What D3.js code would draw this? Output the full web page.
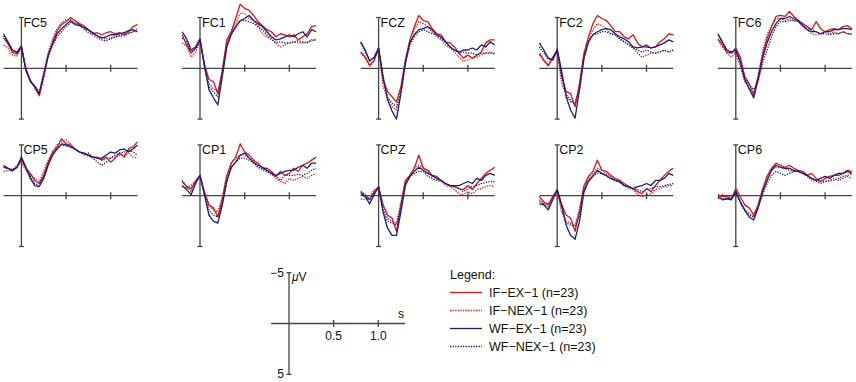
<!DOCTYPE html>
<html>
<head>
<meta charset="utf-8">
<script src="https://cdn.jsdelivr.net/npm/d3@7"></script>
<style>
  body { margin: 0; background: #fff; }
  svg text { font-family: "Liberation Sans", Arial, Helvetica, sans-serif; fill: #111; }
</style>
</head>
<body>
<div id="chart"></div>
<script>
// channel names, in panel order (row 1 then row 2)
const channels = ["FC5", "FC1", "FCZ", "FC2", "FC6", "CP5", "CP1", "CPZ", "CP2", "CP6"];
// sample times in s, -0.2 .. 1.3 every 50 ms
const times = d3.range(31).map(i => +(-0.2 + i * 0.05).toFixed(2));

// amplitudes in microvolts (negative plotted up), one row per channel
const ifEx = [
  [-3.0,-2.4,-1.6,-1.4,-2.1,0.0,1.2,1.9,2.7,0.9,-1.2,-2.6,-3.7,-4.3,-4.6,-5.0,-4.7,-4.4,-4.2,-3.8,-3.4,-3.5,-3.3,-3.5,-3.6,-3.4,-3.5,-3.3,-3.6,-4.1,-4.3],
  [-3.3,-2.3,-1.5,-2.0,-2.8,-0.4,1.1,1.3,2.5,0.2,-2.8,-3.6,-4.9,-6.3,-5.9,-5.7,-5.2,-4.6,-4.2,-3.8,-3.6,-3.1,-3.4,-3.3,-3.1,-3.3,-2.8,-3.1,-3.4,-4.1,-4.2],
  [-1.6,-1.1,-0.3,-0.8,-2.0,1.1,2.3,2.8,3.3,1.8,-0.8,-2.8,-4.1,-5.2,-4.7,-4.6,-3.9,-3.4,-3.3,-2.6,-2.5,-2.1,-1.5,-1.0,-1.3,-1.0,-1.3,-1.6,-2.5,-2.8,-2.8],
  [-1.5,-0.8,-0.3,-1.1,-1.8,0.8,2.3,2.5,3.8,1.5,-1.5,-3.1,-4.4,-5.2,-4.9,-4.7,-4.2,-3.6,-3.6,-3.1,-2.9,-3.3,-2.5,-2.1,-2.3,-2.0,-2.1,-2.6,-2.9,-3.4,-3.3],
  [-2.9,-2.3,-1.6,-1.5,-2.0,-1.1,0.8,1.5,2.6,0.8,-1.3,-2.9,-4.1,-5.1,-5.2,-5.1,-5.6,-5.1,-4.7,-4.4,-4.1,-3.8,-4.6,-3.9,-3.6,-3.8,-3.9,-3.8,-4.1,-4.2,-3.9],
  [-2.8,-2.7,-2.4,-2.8,-3.5,-2.7,-2.2,-1.5,-1.2,-2.0,-3.3,-4.3,-4.8,-5.6,-5.1,-5.0,-4.6,-4.3,-4.2,-4.0,-3.8,-3.8,-3.5,-3.8,-3.3,-3.7,-4.2,-3.8,-4.6,-4.8,-5.3],
  [-1.4,-0.9,-0.7,-1.4,-2.0,-0.4,0.9,1.2,2.1,0.3,-2.0,-3.2,-3.8,-5.1,-4.3,-4.0,-3.5,-3.2,-2.7,-2.7,-2.4,-1.9,-2.4,-2.0,-2.2,-2.7,-2.4,-3.0,-3.2,-3.5,-3.8],
  [-0.4,0.1,0.4,-0.4,-0.9,0.9,1.9,2.2,3.5,0.9,-1.5,-2.0,-2.7,-4.0,-2.7,-2.5,-2.0,-1.9,-1.5,-1.2,-1.0,-0.9,-0.7,-0.6,-1.0,-0.6,-1.2,-1.7,-2.2,-2.5,-2.8],
  [0.1,0.6,0.9,0.1,-0.6,0.9,1.9,2.2,3.5,1.6,-1.0,-1.9,-2.4,-3.5,-2.5,-2.4,-2.0,-1.7,-1.5,-1.2,-0.9,-0.7,-0.4,-0.2,-0.7,-0.4,-1.0,-1.5,-2.0,-2.4,-2.7],
  [-0.1,0.1,0.1,0.3,-0.7,0.1,0.9,1.2,1.9,0.9,-0.6,-1.9,-2.7,-3.2,-3.0,-2.8,-3.0,-2.7,-2.5,-2.4,-2.0,-2.2,-1.7,-1.4,-1.7,-1.9,-2.0,-2.0,-2.2,-2.5,-2.4]
];
const ifNex = [
  [-2.3,-2.0,-1.3,-1.2,-2.0,0.1,1.2,1.9,2.6,0.7,-1.6,-2.9,-3.9,-4.5,-4.8,-4.8,-4.5,-4.3,-4.0,-3.7,-3.5,-3.2,-3.0,-2.9,-3.0,-3.1,-3.2,-3.4,-3.5,-3.6,-3.9],
  [-2.5,-2.2,-1.1,-1.6,-2.6,-0.3,1.5,2.0,2.3,0.3,-2.4,-3.6,-4.4,-5.4,-5.4,-4.9,-4.7,-4.2,-3.4,-3.1,-2.8,-2.5,-2.1,-2.3,-2.5,-2.6,-2.5,-2.5,-2.6,-2.7,-2.8],
  [-1.5,-1.0,-0.2,-0.7,-1.8,1.8,2.8,3.8,4.1,2.1,-0.8,-2.6,-3.8,-4.6,-4.4,-4.1,-3.6,-3.1,-2.8,-2.3,-2.0,-1.6,-1.1,-0.7,-0.8,-1.0,-1.1,-1.3,-1.5,-1.6,-1.5],
  [-1.3,-0.7,-0.2,-1.0,-1.6,1.5,2.6,3.1,3.6,1.6,-1.3,-2.8,-3.8,-4.4,-4.2,-3.9,-3.4,-3.3,-2.9,-2.6,-2.3,-2.0,-1.5,-1.1,-1.3,-1.5,-1.5,-1.6,-1.8,-1.6,-1.8],
  [-2.8,-2.1,-1.5,-1.1,-1.5,-0.2,1.3,2.0,2.5,0.8,-1.6,-3.3,-4.2,-4.9,-4.9,-4.7,-4.9,-4.7,-4.6,-4.1,-3.8,-3.4,-3.3,-3.4,-3.6,-3.4,-3.6,-3.4,-3.6,-3.4,-3.3],
  [-2.4,-2.5,-2.5,-3.0,-3.3,-2.5,-2.0,-1.7,-1.4,-2.4,-3.5,-4.3,-5.0,-5.3,-5.5,-5.1,-4.6,-4.3,-4.0,-4.2,-3.8,-3.7,-3.5,-3.7,-3.7,-3.8,-4.0,-4.0,-4.2,-3.8,-3.7],
  [-0.9,-0.7,-1.0,-1.5,-1.9,-0.2,0.9,1.4,1.6,0.1,-1.9,-3.2,-3.7,-4.0,-4.0,-3.7,-3.3,-2.8,-2.5,-2.4,-2.2,-1.7,-1.4,-1.2,-1.7,-1.5,-1.7,-1.9,-1.7,-2.0,-2.2],
  [0.3,0.4,0.1,-0.6,-0.7,1.2,2.2,2.5,2.7,0.6,-1.4,-2.0,-2.8,-3.0,-2.8,-2.4,-1.9,-1.7,-1.5,-1.0,-0.9,-0.6,-0.2,-0.1,-0.4,-0.2,-0.6,-0.7,-0.9,-1.0,-0.9],
  [0.6,0.8,0.8,0.1,-0.4,1.6,2.5,2.7,2.9,1.2,-0.9,-1.7,-2.2,-2.7,-2.5,-2.2,-1.9,-1.5,-1.4,-1.0,-0.7,-0.6,-0.1,0.1,-0.1,-0.2,-0.6,-0.7,-0.9,-1.0,-1.0],
  [0.3,-0.1,0.1,0.1,-0.4,0.6,1.4,1.7,2.1,0.9,-0.7,-1.9,-2.5,-2.8,-2.8,-2.7,-2.5,-2.4,-2.4,-2.2,-1.9,-1.5,-1.4,-1.2,-1.4,-1.5,-1.7,-1.5,-1.7,-1.9,-1.7]
];
const wfEx = [
  [-3.4,-2.6,-1.8,-1.6,-2.2,0.2,1.3,1.8,2.5,0.6,-1.3,-2.4,-3.4,-3.9,-4.3,-4.7,-4.3,-4.2,-4.0,-3.8,-3.5,-3.2,-3.0,-3.1,-3.3,-3.3,-3.4,-3.5,-3.7,-3.8,-3.6],
  [-3.6,-2.9,-1.8,-2.1,-2.9,-0.2,2.1,2.9,3.6,0.8,-2.1,-3.4,-4.1,-4.7,-4.9,-5.2,-4.7,-4.4,-4.1,-3.6,-3.1,-2.8,-2.9,-3.1,-3.3,-3.1,-3.4,-3.6,-3.1,-3.8,-3.6],
  [-2.6,-1.8,-0.7,-1.1,-2.0,0.8,3.1,4.2,5.0,2.5,-0.5,-2.5,-3.3,-3.8,-3.9,-4.1,-3.8,-3.3,-3.1,-2.6,-2.1,-1.8,-1.6,-1.8,-1.8,-2.0,-1.8,-2.3,-2.1,-2.6,-2.3],
  [-2.5,-1.8,-1.0,-0.8,-1.9,0.3,2.8,4.1,4.9,2.1,-1.0,-2.6,-3.3,-3.6,-3.8,-3.9,-3.8,-3.4,-3.1,-2.9,-2.6,-2.1,-2.0,-2.1,-2.1,-2.0,-2.1,-2.3,-2.5,-2.8,-2.6],
  [-3.4,-2.6,-1.8,-1.6,-1.8,-0.7,1.1,2.0,2.9,1.1,-1.0,-2.5,-3.6,-4.4,-4.9,-4.9,-5.1,-4.9,-4.7,-4.2,-3.8,-3.6,-3.6,-3.4,-3.6,-3.6,-3.8,-3.8,-3.9,-3.9,-3.8],
  [-3.0,-2.7,-2.5,-2.8,-3.8,-2.8,-1.7,-1.0,-0.9,-1.7,-3.0,-4.0,-4.6,-5.1,-5.0,-4.8,-4.6,-4.3,-4.2,-4.0,-3.8,-3.7,-3.7,-4.0,-4.3,-4.2,-4.5,-4.6,-4.3,-4.6,-5.0],
  [-1.0,-0.6,-0.1,-1.2,-2.0,-0.1,1.9,2.5,2.7,0.9,-1.4,-2.8,-3.3,-4.0,-4.2,-3.7,-3.3,-3.0,-2.8,-2.5,-2.2,-2.0,-2.2,-2.4,-2.5,-2.5,-2.8,-3.0,-2.7,-3.2,-3.2],
  [-0.2,0.1,0.8,-0.1,-0.9,1.6,3.2,3.9,3.9,1.6,-1.0,-1.9,-2.4,-2.8,-2.5,-2.2,-2.0,-1.7,-1.5,-1.2,-1.0,-1.0,-1.0,-1.2,-1.4,-1.2,-1.7,-1.5,-2.0,-2.2,-2.0],
  [0.8,0.9,1.4,0.4,-0.6,0.9,2.9,3.9,4.3,2.5,-0.4,-1.4,-1.9,-2.5,-2.2,-2.0,-1.7,-1.5,-1.4,-1.0,-0.9,-0.7,-0.9,-1.0,-1.2,-1.0,-1.5,-1.5,-1.7,-2.2,-2.0],
  [0.1,0.4,0.3,0.4,-0.4,0.6,1.4,2.1,2.4,1.2,-0.4,-1.5,-2.5,-3.0,-2.8,-2.7,-2.7,-2.5,-2.4,-2.2,-2.0,-1.7,-1.5,-1.7,-1.9,-1.7,-2.0,-2.2,-2.2,-2.4,-2.2]
];
const wfNex = [
  [-3.2,-2.5,-1.8,-1.5,-2.1,0.2,1.2,1.7,2.3,0.5,-1.2,-2.3,-3.1,-3.6,-4.1,-4.5,-4.4,-4.3,-3.9,-3.5,-3.3,-3.0,-2.8,-2.7,-2.9,-3.1,-3.2,-3.2,-3.4,-3.6,-3.6],
  [-3.0,-2.6,-1.6,-1.9,-2.8,-0.2,1.8,2.3,2.8,0.5,-2.2,-3.3,-4.0,-4.7,-4.7,-4.6,-4.4,-4.1,-3.8,-3.3,-2.9,-2.5,-2.6,-2.5,-2.5,-2.6,-2.7,-2.6,-2.5,-2.8,-2.8],
  [-2.5,-1.6,-0.8,-1.0,-1.9,1.0,2.9,3.4,3.8,2.3,-0.5,-2.3,-3.1,-3.6,-3.8,-3.6,-3.4,-3.3,-2.9,-2.6,-2.1,-1.8,-1.5,-1.6,-1.5,-1.5,-1.3,-1.5,-1.5,-1.5,-1.4],
  [-2.1,-1.5,-0.9,-0.9,-1.8,0.7,2.6,3.3,3.4,2.0,-1.1,-2.6,-3.3,-3.4,-3.6,-3.6,-3.4,-3.3,-2.9,-2.6,-2.3,-2.0,-1.8,-1.6,-1.8,-1.6,-1.5,-1.6,-1.8,-1.6,-1.8],
  [-3.3,-2.5,-1.8,-1.5,-1.6,-0.5,1.0,1.6,2.1,1.3,-0.5,-1.8,-3.1,-4.1,-4.6,-4.6,-4.7,-4.7,-4.6,-4.2,-3.9,-3.8,-3.6,-3.4,-3.4,-3.3,-3.4,-3.4,-3.6,-3.4,-3.4],
  [-2.8,-2.7,-2.6,-2.8,-3.7,-2.8,-1.9,-1.2,-1.0,-1.9,-3.2,-4.1,-4.6,-5.0,-4.9,-4.8,-4.6,-4.3,-4.1,-3.9,-3.7,-3.3,-3.0,-3.3,-3.7,-4.0,-4.2,-4.3,-4.5,-4.3,-4.0],
  [-1.5,-0.9,-0.4,-1.3,-2.0,-0.1,1.4,1.9,2.1,0.8,-1.5,-2.8,-3.3,-3.7,-3.7,-3.5,-3.2,-2.8,-2.7,-2.4,-2.1,-1.9,-1.5,-2.0,-2.0,-2.0,-2.1,-2.0,-2.2,-2.5,-2.7],
  [-0.4,-0.1,0.4,-0.2,-0.8,1.4,2.5,2.7,2.9,1.2,-1.2,-1.9,-2.2,-2.4,-2.4,-1.9,-1.7,-1.5,-1.4,-1.2,-1.0,-0.9,-0.7,-0.4,-0.7,-0.9,-1.0,-1.2,-1.3,-1.4,-1.4],
  [0.4,0.8,1.1,0.3,-0.5,1.2,2.7,2.9,3.0,1.9,-0.6,-1.5,-2.0,-2.2,-2.2,-1.9,-1.7,-1.5,-1.3,-1.0,-0.9,-0.7,-0.6,-0.4,-0.6,-0.7,-0.9,-0.9,-1.0,-1.1,-1.2],
  [0.1,0.3,0.3,0.3,-0.2,0.7,1.5,1.9,2.1,1.2,-0.1,-1.2,-2.0,-2.4,-2.2,-2.0,-2.2,-2.4,-2.4,-2.2,-2.0,-1.7,-1.5,-1.4,-1.4,-1.5,-1.5,-1.7,-1.9,-2.0,-2.2]
];

const red = "#d31a1a", blue = "#1b1f7a";
const conditions = [
  {label: "IF\u2212EX\u22121 (n=23)",  data: ifEx,  color: red,  dash: null},
  {label: "IF\u2212NEX\u22121 (n=23)", data: ifNex, color: red,  dash: "1.3,1.3"},
  {label: "WF\u2212EX\u22121 (n=23)",  data: wfEx,  color: blue, dash: null},
  {label: "WF\u2212NEX\u22121 (n=23)", data: wfNex, color: blue, dash: "1.3,1.3"}
];

const W = 856, H = 382;
const pxPerSec = 89.3, halfAmp = 50.8;
const axisColor = "#444";

var svg = d3.select("#chart")
  .append("svg")
    .attr("width", W)
    .attr("height", H);

// scales for a panel whose origin (t=0, 0 uV) sits at (ox, oy)
function panelScales(ox, oy) {
  const x = d3.scaleLinear().domain([-0.2, 1.3]).range([ox - 0.2 * pxPerSec, ox + 1.3 * pxPerSec]);
  const y = d3.scaleLinear().domain([-5, 5]).range([oy - halfAmp, oy + halfAmp]);
  return {x, y};
}

function drawAxes(g, x, y) {
  const ax = g.append("g").attr("stroke", axisColor).attr("stroke-width", 1.3).attr("fill", "none");
  // time axis
  ax.append("line").attr("x1", x(-0.2)).attr("x2", x(1.3)).attr("y1", y(0)).attr("y2", y(0));
  [0.5, 1.0].forEach(t => {
    ax.append("line").attr("x1", x(t)).attr("x2", x(t)).attr("y1", y(0) - 3.5).attr("y2", y(0) + 3.5);
  });
  // amplitude axis with end caps
  ax.append("line").attr("x1", x(0)).attr("x2", x(0)).attr("y1", y(-5)).attr("y2", y(5));
  [-5, 5].forEach(v => {
    ax.append("line").attr("x1", x(0) - 2.5).attr("x2", x(0) + 2.5).attr("y1", y(v)).attr("y2", y(v));
  });
}

channels.forEach((ch, i) => {
  const col = i % 5, row = Math.floor(i / 5);
  const ox = 21.4 + col * 178.6, oy = 68.3 + row * 127.4;
  const {x, y} = panelScales(ox, oy);
  const g = svg.append("g").attr("class", "panel");

  drawAxes(g, x, y);

  const line = d3.line()
    .x((d, k) => x(times[k]))
    .y(d => y(d));

  conditions.forEach(c => {
    g.append("path")
      .attr("d", line(c.data[i]))
      .attr("fill", "none")
      .attr("stroke", c.color)
      .attr("stroke-width", 1.3)
      .attr("stroke-linejoin", "round")
      .attr("stroke-dasharray", c.dash);
  });

  g.append("text")
    .attr("x", x(0) + 2)
    .attr("y", y(-5) + 9)
    .style("font-size", "12.5px")
    .text(ch);
});

// scale reference panel
{
  const {x, y} = panelScales(289, 323.5);
  const g = svg.append("g").attr("class", "scale");
  drawAxes(g, x, y);
  g.append("text").attr("x", x(0) - 5).attr("y", y(-5) + 4).attr("text-anchor", "end")
    .style("font-size", "12px").text("\u22125");
  g.append("text").attr("x", x(0) - 5).attr("y", y(5) + 4).attr("text-anchor", "end")
    .style("font-size", "12px").text("5");
  g.append("text").attr("x", x(0) + 3).attr("y", y(-5) + 8)
    .style("font-size", "12px")
    .html('<tspan font-style="italic">\u03bc</tspan>V');
  [0.5, 1.0].forEach(t => {
    g.append("text").attr("x", x(t)).attr("y", y(0) + 16).attr("text-anchor", "middle")
      .style("font-size", "12px").text(d3.format(".1f")(t));
  });
  g.append("text").attr("x", x(1.3) - 4).attr("y", y(0) - 6).attr("text-anchor", "middle")
    .style("font-size", "12px").text("s");
}

// legend
const legend = svg.append("g").attr("transform", "translate(450,279)");
legend.append("text").attr("x", 0).attr("y", 0).style("font-size", "12.5px").text("Legend:");
conditions.forEach((c, k) => {
  const ly = 13.5 + k * 18;
  legend.append("line")
    .attr("x1", 0).attr("x2", 32).attr("y1", ly).attr("y2", ly)
    .attr("stroke", c.color).attr("stroke-width", 1.3)
    .attr("stroke-dasharray", c.dash);
  legend.append("text").attr("x", 39).attr("y", ly + 4.5)
    .style("font-size", "12.5px").text(c.label);
});
</script>
</body>
</html>
